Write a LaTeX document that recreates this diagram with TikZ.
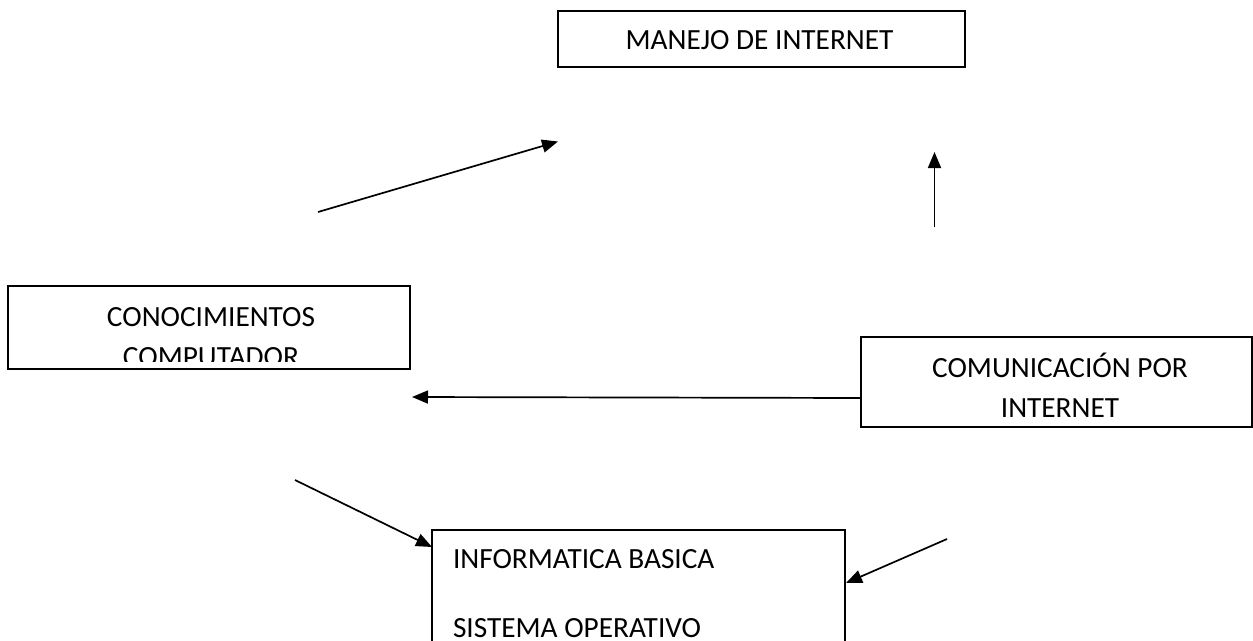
\documentclass[tikz,border=0pt]{standalone}
\usepackage{fontspec}
\setmainfont{Carlito}
\usetikzlibrary{arrows.meta}
\begin{document}
\begin{tikzpicture}[x=1pt,y=-1pt,
  box/.style={draw,line width=1.8pt,inner sep=0pt,outer sep=0pt},
  lbl/.style={inner sep=0pt,outer sep=0pt,anchor=base,font=\fontsize{29.3}{35}\selectfont},
  lblw/.style={lbl,anchor=base west},
  conn/.style={line width=1.7pt,-{Triangle[length=16pt,width=13pt]}}]
\useasboundingbox (0,0) rectangle (1253,640);
% boxes
\node[box,minimum width=407pt,minimum height=56pt] (top) at (761.5,39) {};
\node[box,minimum width=402pt,minimum height=83pt] (left) at (209,327.5) {};
\node[box,minimum width=391pt,minimum height=90pt] (right) at (1056.5,382) {};
\node[box,minimum width=413pt,minimum height=200pt] (bottom) at (638.5,630) {};
% texts
\node[lbl] (ttop) at (759.5,49) {MANEJO DE INTERNET};
\begin{scope}
  \clip (8,286) rectangle (410,361);
  \node[lbl] (tleft1) at (211,326) {CONOCIMIENTOS};
  \node[lbl] (tleft2) at (211,366) {COMPUTADOR};
\end{scope}
\node[lbl] (tright1) at (1060,377) {COMUNICACIÓN POR};
\node[lbl] (tright2) at (1060,417) {INTERNET};
\begin{scope}
  \clip (432,530) rectangle (845,638);
  \node[lblw] (tbot1) at (453,568) {INFORMATICA BASICA};
  \node[lblw] (tbot2) at (453,637) {SISTEMA OPERATIVO};
\end{scope}
% connector ends
\coordinate (a1s) at (318,212);
\coordinate (a1e) at (558,141.5);
\coordinate (a2s) at (934.5,227);
\coordinate (a2e) at (934.5,152);
\coordinate (a3s) at (861,398);
\coordinate (a3e) at (412,397);
\coordinate (a4s) at (295,480);
\coordinate (a4e) at (432,547);
\coordinate (a5s) at (947,539);
\coordinate (a5e) at (846,583);
\draw[conn] (a1s) -- (a1e);
\draw[conn] (a2s) -- (a2e);
\draw[conn] (a3s) -- (a3e);
\draw[conn] (a4s) -- (a4e);
\draw[conn] (a5s) -- (a5e);
\end{tikzpicture}
\end{document}
